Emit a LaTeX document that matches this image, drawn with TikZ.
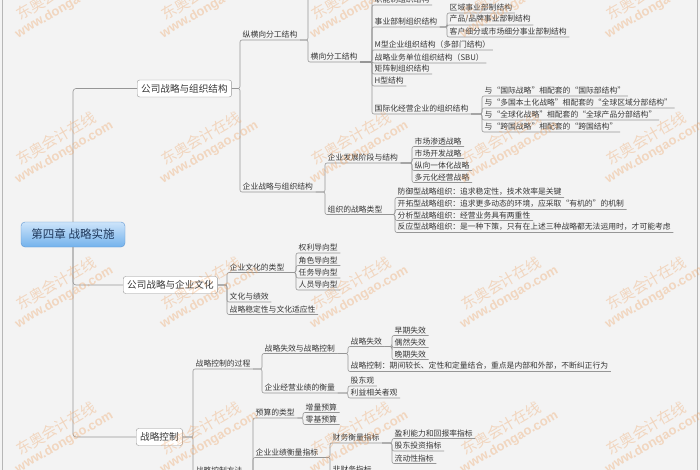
\documentclass[tikz,border=0pt]{standalone}
\usepackage{fontspec}
\setmainfont{Noto Sans CJK SC}
\newfontfamily\wmlatin{Liberation Sans}
\usetikzlibrary{backgrounds}
\definecolor{bgc}{RGB}{243,243,243}
\definecolor{lnc}{RGB}{150,150,150}
\definecolor{txt}{RGB}{55,55,55}
\definecolor{wmc}{RGB}{238,160,95}
\definecolor{roottop}{RGB}{205,228,250}
\definecolor{rootbot}{RGB}{115,178,236}
\definecolor{rootdraw}{RGB}{95,150,210}
\definecolor{roottxt}{RGB}{30,55,90}
\newcommand\lk[2]{\draw[ln] (#1.south east) -| (#2.south west) -- (#2.south east);}
\newcommand\lkb[2]{\draw[ln] (#1.east) -| (#2.south west) -- (#2.south east);}
\begin{document}
\begin{tikzpicture}[x=1pt,y=-1pt,
  t/.style={anchor=south west,inner xsep=2.5pt,inner ysep=1.6pt,font=\fontsize{7.8}{9}\selectfont,text=txt},
  ln/.style={draw=lnc,line width=0.6pt,rounded corners=2pt},
  lvl/.style={draw=lnc,fill=white,rounded corners=2.5pt,minimum height=17pt,inner xsep=4pt,inner ysep=0pt,font=\fontsize{9.6}{10}\selectfont,text=txt,anchor=west},
  rootbox/.style={draw=rootdraw,top color=roottop,bottom color=rootbot,rounded corners=4pt,minimum width=104pt,minimum height=25pt,font=\fontsize{11.5}{12}\selectfont,text=roottxt},
  wm/.style={rotate=30,text=wmc,opacity=0.35,align=center,font=\fontsize{15}{17}\selectfont}]
\useasboundingbox (0,0) rectangle (700,470);
\fill[bgc] (0,0) rectangle (700,470);
\draw[lnc!70,line width=0.6pt] (2,-5) rectangle (697,475);

% root and level 1
\node[rootbox] (root) at (73,234.5) {第四章 战略实施};
\node[lvl] (A) at (137,88.5) {公司战略与组织结构};
\node[lvl] (B) at (123,285) {公司战略与企业文化};
\node[lvl] (C) at (136,437) {战略控制};
\draw[ln,rounded corners=3pt] (root.north) |- (A.west);
\draw[ln,rounded corners=3pt] (root.south) |- (B.west);
\draw[ln,rounded corners=3pt] (root.south) |- (C.west);

% ---- 公司战略与组织结构
\node[t] (a1) at (240,40) {纵横向分工结构};
\node[t] (a2) at (240,192) {企业战略与组织结构};
\lkb{A}{a1} \lkb{A}{a2}

\node[t] (a11) at (308,-8) {纵向分工结构};
\node[t] (a12) at (308,62) {横向分工结构};
\lk{a1}{a11} \lk{a1}{a12}

\node[t] (h0) at (372,-7) {创业型组织结构};
\node[t] (h1) at (372,5) {职能制组织结构};
\node[t] (h2) at (372,27) {事业部制组织结构};
\node[t] (h3) at (372,50) {M型企业组织结构（多部门结构）};
\node[t] (h4) at (372,63) {战略业务单位组织结构（SBU）};
\node[t] (h5) at (372,74) {矩阵制组织结构};
\node[t] (h6) at (372,86) {H型结构};
\node[t] (h7) at (372,114) {国际化经营企业的组织结构};
\foreach \n in {h0,h1,h2,h3,h4,h5,h6,h7} {\lk{a12}{\n}}

\node[t] (s1) at (447,13) {区域事业部制结构};
\node[t] (s2) at (447,25) {产品/品牌事业部制结构};
\node[t] (s3) at (447,37) {客户细分或市场细分事业部制结构};
\foreach \n in {s1,s2,s3} {\lk{h2}{\n}}

\node[t] (g1) at (482,96) {与“国际战略”相配套的“国际部结构”};
\node[t] (g2) at (482,108) {与“多国本土化战略”相配套的“全球区域分部结构”};
\node[t] (g3) at (482,120) {与“全球化战略”相配套的“全球产品分部结构”};
\node[t] (g4) at (482,132) {与“跨国战略”相配套的“跨国结构”};
\foreach \n in {g1,g2,g3,g4} {\lk{h7}{\n}}

\node[t] (e1) at (325,163) {企业发展阶段与结构};
\node[t] (e2) at (325,214.5) {组织的战略类型};
\lk{a2}{e1} \lk{a2}{e2}

\node[t] (d1) at (412,146.5) {市场渗透战略};
\node[t] (d2) at (412,158.5) {市场开发战略};
\node[t] (d3) at (412,170.5) {纵向一体化战略};
\node[t] (d4) at (412,182.5) {多元化经营战略};
\foreach \n in {d1,d2,d3,d4} {\lk{e1}{\n}}

\node[t] (o1) at (395,197.5) {防御型战略组织：追求稳定性，技术效率是关键};
\node[t] (o2) at (395,209.5) {开拓型战略组织：追求更多动态的环境，应采取“有机的”的机制};
\node[t] (o3) at (395,220.5) {分析型战略组织：经营业务具有两重性};
\node[t] (o4) at (395,232.5) {反应型战略组织：是一种下策，只有在上述三种战略都无法运用时，才可能考虑};
\foreach \n in {o1,o2,o3,o4} {\lk{e2}{\n}}

% ---- 公司战略与企业文化
\node[t] (b1) at (227,272.5) {企业文化的类型};
\node[t] (b2) at (227,302) {文化与绩效};
\node[t] (b3) at (227,314.5) {战略稳定性与文化适应性};
\lkb{B}{b1} \lkb{B}{b2} \lkb{B}{b3}

\node[t] (k1) at (296,253) {权利导向型};
\node[t] (k2) at (296,265.5) {角色导向型};
\node[t] (k3) at (296,278) {任务导向型};
\node[t] (k4) at (296,290) {人员导向型};
\foreach \n in {k1,k2,k3,k4} {\lk{b1}{\n}}

% ---- 战略控制
\node[t] (c1) at (193,369) {战略控制的过程};
\node[t] (c2) at (193,476) {战略控制方法};
\lkb{C}{c1} \lkb{C}{c2}

\node[t] (p1) at (262,353.5) {战略失效与战略控制};
\node[t] (p2) at (262,393) {企业经营业绩的衡量};
\lk{c1}{p1} \lk{c1}{p2}

\node[t] (f1) at (348,346.5) {战略失效};
\node[t] (f2) at (348,371.5) {战略控制：期间较长、定性和定量结合，重点是内部和外部，不断纠正行为};
\lk{p1}{f1} \lk{p1}{f2}

\node[t] (x1) at (392,335.5) {早期失效};
\node[t] (x2) at (392,347.5) {偶然失效};
\node[t] (x3) at (392,359.5) {晚期失效};
\foreach \n in {x1,x2,x3} {\lk{f1}{\n}}

\node[t] (q1) at (348,386) {股东观};
\node[t] (q2) at (348,398) {利益相关者观};
\lk{p2}{q1} \lk{p2}{q2}

\node[t] (m1) at (253,418) {预算的类型};
\node[t] (m2) at (253,457.5) {企业业绩衡量指标};
\lk{c2}{m1} \lk{c2}{m2}

\node[t] (y1) at (303,412.5) {增量预算};
\node[t] (y2) at (303,424.5) {零基预算};
\lk{m1}{y1} \lk{m1}{y2}

\node[t] (r1) at (330,443) {财务衡量指标};
\node[t] (r2) at (330,474.5) {非财务指标};
\lk{m2}{r1} \lk{m2}{r2}

\node[t] (u1) at (392,438.5) {盈利能力和回报率指标};
\node[t] (u2) at (392,451) {股东投资指标};
\node[t] (u3) at (392,463.5) {流动性指标};
\foreach \n in {u1,u2,u3} {\lk{r1}{\n}}

% ---- watermarks
\foreach \wy in {0,145,290,435} {
  \foreach \wx in {60,205,355,505,650} {
    \node[wm] at (\wx,\wy) {东奥会计在线\\[-3pt]{\wmlatin\bfseries\fontsize{13}{15}\selectfont www.dongao.com}};
  }
}
\end{tikzpicture}
\end{document}
